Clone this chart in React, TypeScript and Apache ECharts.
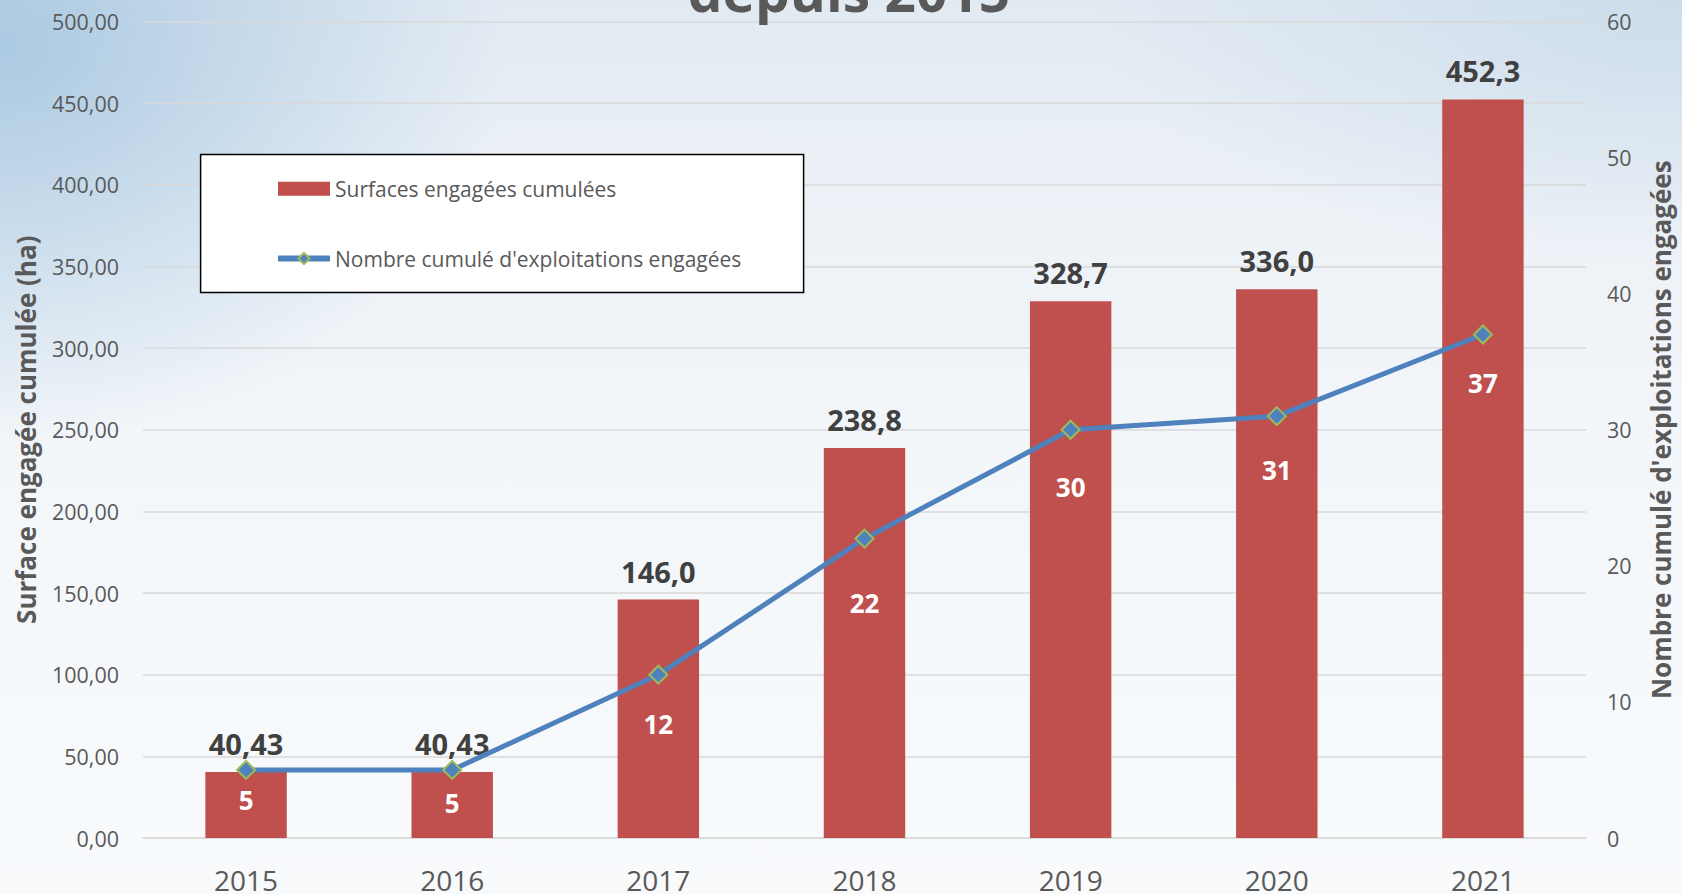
import React, { useEffect, useRef } from "react";
import * as echarts from "echarts";

const years = ["2015", "2016", "2017", "2018", "2019", "2020", "2021"];
const surfaces = [40.43, 40.43, 146.0, 238.8, 328.7, 336.0, 452.3];
const surfaceLabels = ["40,43", "40,43", "146,0", "238,8", "328,7", "336,0", "452,3"];
const exploitations = [5, 5, 12, 22, 30, 31, 37];
const surfaceName = "Surfaces engagées cumulées";
const countName = "Nombre cumulé d'exploitations engagées";
const leftAxisTitle = "Surface engagée cumulée (ha)";
const rightAxisTitle = "Nombre cumulé d'exploitations engagées";
const titleText = "depuis 2015";

// label placement (styling only)
const countLabelGap = [7, 10, 26, 41, 34, 31, 26];

const FONT = "'Open Sans', 'Noto Sans', sans-serif";
const GRAY = "#595959";

export default function App() {
  const ref = useRef<HTMLDivElement>(null);
  useEffect(() => {
    if (!ref.current) return;
    const chart = echarts.init(ref.current, null, { renderer: "svg" });
    chart.setOption({
      animation: false,
      backgroundColor: "transparent",
      textStyle: { fontFamily: FONT },
      grid: { left: 143, right: 94, top: 21.5, bottom: 56, containLabel: false },
      graphic: [
        {
          type: "text",
          x: 849,
          y: -37,
          style: {
            text: titleText,
            fontFamily: FONT,
            fontWeight: "bold",
            fontSize: 55,
            fill: GRAY,
            align: "center",
          },
          z: 10,
        },
        {
          type: "rect",
          shape: { x: 200.6, y: 154.5, width: 603, height: 138 },
          style: { fill: "#ffffff", stroke: "#000000", lineWidth: 1.5 },
          z: 5,
        },
      ],
      legend: {
        orient: "vertical",
        left: 275,
        top: 176.8,
        padding: 0,
        itemGap: 45.7,
        itemWidth: 52,
        itemHeight: 14,
        z: 10,
        textStyle: { fontFamily: FONT, fontSize: 21, color: GRAY, lineHeight: 24 },
        data: [
          { name: surfaceName, icon: "rect", itemStyle: { color: "#C0504D" } },
          { name: countName, lineStyle: { width: 6, color: "#4F81BD" } },
        ],
      },
      xAxis: {
        type: "category",
        data: years,
        axisLine: { lineStyle: { color: "#d9d9d9", width: 1.5 } },
        axisTick: { show: false },
        axisLabel: { color: GRAY, fontSize: 28, fontFamily: FONT, margin: 28 },
      },
      yAxis: [
        {
          type: "value",
          min: 0,
          max: 500,
          interval: 50,
          name: leftAxisTitle,
          nameLocation: "middle",
          nameGap: 104,
          nameTextStyle: { color: GRAY, fontSize: 26, fontWeight: "bold", fontFamily: FONT },
          axisLine: { show: false },
          axisTick: { show: false },
          axisLabel: {
            color: GRAY,
            fontSize: 21.5,
            fontFamily: FONT,
            margin: 24,
            formatter: (v: number) => v.toFixed(2).replace(".", ","),
          },
          splitLine: { lineStyle: { color: "#d9d9d9", width: 1.5 } },
        },
        {
          type: "value",
          min: 0,
          max: 60,
          interval: 10,
          name: rightAxisTitle,
          nameLocation: "middle",
          nameGap: 62,
          nameRotate: 90,
          nameTextStyle: { color: GRAY, fontSize: 26, fontWeight: "bold", fontFamily: FONT },
          axisLine: { show: false },
          axisTick: { show: false },
          axisLabel: { color: GRAY, fontSize: 21.5, fontFamily: FONT, margin: 21 },
          splitLine: { show: false },
        },
      ],
      series: [
        {
          name: surfaceName,
          type: "bar",
          yAxisIndex: 0,
          barWidth: "39.5%",
          data: surfaces,
          itemStyle: { color: "#C0504D" },
          label: {
            show: true,
            position: "top",
            distance: 14,
            color: "#404040",
            fontSize: 29,
            fontWeight: "bold",
            fontFamily: FONT,
            formatter: (p: any) => surfaceLabels[p.dataIndex],
          },
          z: 2,
        },
        {
          name: countName,
          type: "line",
          yAxisIndex: 1,
          data: exploitations.map((v, i) => ({
            value: v,
            label: { distance: countLabelGap[i] },
          })),
          symbol: "diamond",
          symbolSize: 18,
          lineStyle: { color: "#4F81BD", width: 5 },
          itemStyle: { color: "#4F81BD", borderColor: "#9BBB59", borderWidth: 2 },
          label: {
            show: true,
            position: "bottom",
            color: "#ffffff",
            fontSize: 26,
            fontWeight: "bold",
            fontFamily: FONT,
          },
          z: 3,
        },
      ],
    });
    return () => chart.dispose();
  }, []);
  return (
    <div
      style={{
        position: "fixed",
        left: 0,
        top: 0,
        width: 1682,
        height: 894,
        background:
          "radial-gradient(ellipse 30% 45% at 0% 5%, rgba(165,198,224,0.9), rgba(165,198,224,0) 100%), radial-gradient(ellipse 35% 30% at 100% 0%, rgba(195,215,232,0.7), rgba(195,215,232,0) 100%), linear-gradient(to bottom, #e2eaf2 0%, #edf2f7 25%, #f4f7fa 55%, #f8fafc 100%)",
      }}
    >
      <div ref={ref} style={{ width: 1682, height: 894 }} />
    </div>
  );
}
